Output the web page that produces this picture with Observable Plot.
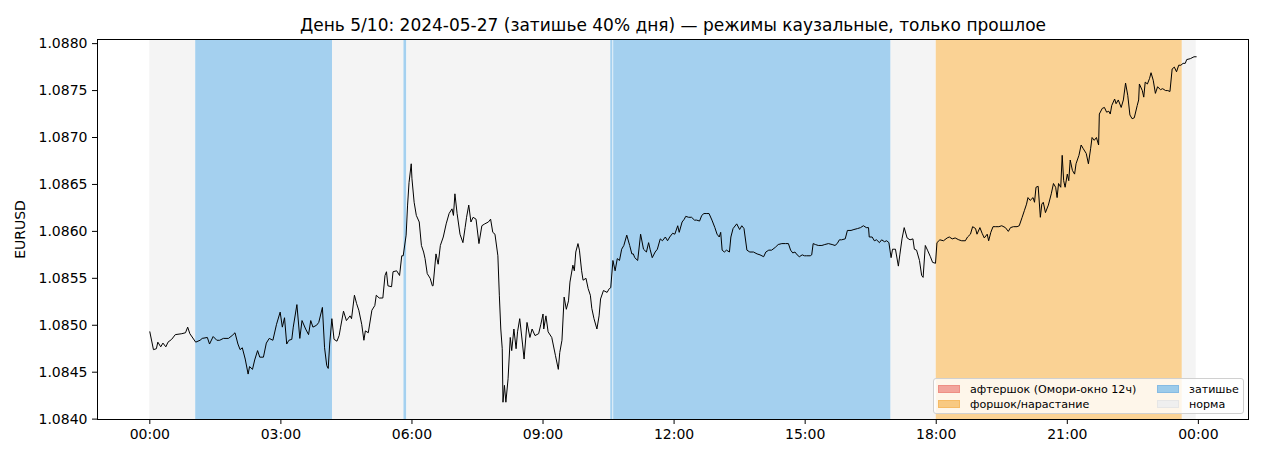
<!DOCTYPE html>
<html>
<head>
<meta charset="utf-8">
<script src="https://cdn.jsdelivr.net/npm/d3@7"></script>
<script src="https://cdn.jsdelivr.net/npm/@observablehq/plot@0.6"></script>
<style>
  html, body { margin: 0; padding: 0; background: #fff; }
  #wrap { position: relative; width: 1265px; height: 460px; font-family: "DejaVu Sans", sans-serif; }
  #legend { position: absolute; left: 933px; top: 378px; width: 311px; height: 36px;
    background: rgba(255,255,255,0.8); border: 1px solid #d0d0d0; border-radius: 3px; box-sizing: border-box;
    font-size: 11.1px; color: #000; }
  .item { position: absolute; height: 13px; line-height: 13px; white-space: nowrap; }
  .sw { position: absolute; left: 0; top: 2px; width: 22px; height: 8px; box-sizing: border-box; }
  .lab { position: absolute; left: 32px; top: 0; }
</style>
</head>
<body>
<div id="wrap"><div id="chart"></div><div id="legend"></div></div>
<script>
const title = "День 5/10: 2024-05-27 (затишье 40% дня) — режимы каузальные, только прошлое";
const yLabel = "EURUSD";

// time of each bar, minutes after 00:00
const minutes = [
  0,5,9,11,15,18,22,25,30,35,
  44,49,52,55,63,69,72,79,82,87,
  92,96,101,108,113,117,121,124,127,131,
  135,137,141,144,148,151,156,160,164,169,
  174,179,182,185,188,191,195,197,202,206,
  209,214,218,221,224,229,232,237,240,243,
  245,247,250,253,257,260,262,266,270,275,
  277,281,284,287,291,294,296,300,305,309,
  311,315,320,323,325,327,332,334,339,343,
  346,348,352,354,356,359,360,363,366,370,
  373,376,378,381,385,388,389,393,396,399,
  403,407,411,415,417,419,422,426,430,433,
  435,438,441,444,448,452,456,460,465,468,
  471,474,478,480,482,484,485,487,489,492,
  495,497,500,503,505,508,512,514,518,522,
  525,529,534,537,540,541,544,547,552,557,
  561,563,566,569,572,575,577,581,583,585,
  588,590,593,595,599,602,605,607,610,614,
  617,619,623,628,631,633,636,639,642,645,
  648,651,655,659,662,664,666,670,674,678,
  682,685,687,690,694,697,701,704,708,711,
  714,718,721,725,727,731,734,736,740,744,
  748,751,755,758,761,765,768,772,776,779,
  782,784,786,789,792,796,798,801,806,810,
  813,816,820,824,829,834,838,843,846,850,
  854,859,863,868,873,877,880,883,886,889,
  892,896,899,902,907,909,911,914,918,923,
  927,932,937,941,944,947,950,955,958,963,
  967,972,976,980,984,987,988,992,995,998,
  1002,1005,1009,1012,1015,1018,1020,1024,1028,1030,
  1033,1036,1040,1044,1048,1050,1053,1057,1060,1062,
  1065,1068,1072,1075,1079,1081,1085,1090,1095,1098,
  1102,1106,1111,1115,1120,1123,1127,1130,1134,1136,
  1140,1143,1146,1150,1152,1155,1158,1161,1166,1170,
  1175,1179,1182,1186,1191,1194,1198,1201,1204,1206,
  1209,1213,1215,1217,1220,1223,1225,1227,1230,1234,
  1238,1241,1244,1246,1248,1251,1253,1255,1257,1260,
  1262,1264,1267,1270,1272,1276,1279,1282,1286,1289,
  1292,1294,1297,1300,1303,1304,1308,1311,1314,1317,
  1319,1321,1325,1327,1330,1334,1337,1340,1343,1346,
  1349,1352,1356,1358,1359,1363,1365,1367,1370,1373,
  1375,1378,1381,1384,1388,1391,1395,1398,1401,1404,
  1407,1410,1413,1416,1419,1422,1424,1429,1434,1437
];

// EURUSD price at each time
const prices = [
  1.08493,1.08474,1.08475,1.08482,1.08477,1.08481,1.08477,1.08482,1.08485,1.08490,
  1.08491,1.08492,1.08498,1.08491,1.08482,1.08484,1.08486,1.08487,1.08480,1.08488,
  1.08484,1.08484,1.08486,1.08486,1.08489,1.08492,1.08480,1.08474,1.08476,1.08464,
  1.08448,1.08456,1.08453,1.08463,1.08473,1.08466,1.08466,1.08481,1.08486,1.08484,
  1.08501,1.08514,1.08498,1.08508,1.08480,1.08484,1.08485,1.08498,1.08522,1.08486,
  1.08505,1.08496,1.08490,1.08505,1.08498,1.08500,1.08503,1.08519,1.08476,1.08457,
  1.08454,1.08480,1.08507,1.08485,1.08483,1.08489,1.08498,1.08515,1.08505,1.08510,
  1.08507,1.08532,1.08523,1.08516,1.08501,1.08484,1.08494,1.08492,1.08516,1.08521,
  1.08532,1.08529,1.08529,1.08553,1.08557,1.08542,1.08541,1.08557,1.08558,1.08553,
  1.08574,1.08574,1.08596,1.08628,1.08652,1.08672,1.08656,1.08631,1.08617,1.08610,
  1.08585,1.08578,1.08571,1.08555,1.08550,1.08542,1.08542,1.08576,1.08565,1.08585,
  1.08594,1.08608,1.08619,1.08624,1.08617,1.08640,1.08619,1.08597,1.08588,1.08604,
  1.08615,1.08628,1.08610,1.08615,1.08613,1.08587,1.08606,1.08608,1.08610,1.08613,
  1.08599,1.08597,1.08574,1.08532,1.08496,1.08475,1.08418,1.08436,1.08418,1.08443,
  1.08487,1.08473,1.08496,1.08475,1.08493,1.08507,1.08479,1.08464,1.08503,1.08487,
  1.08496,1.08489,1.08491,1.08501,1.08512,1.08496,1.08510,1.08493,1.08487,1.08468,
  1.08453,1.08471,1.08484,1.08530,1.08517,1.08526,1.08546,1.08564,1.08558,1.08578,
  1.08587,1.08580,1.08558,1.08548,1.08550,1.08539,1.08532,1.08518,1.08507,1.08496,
  1.08510,1.08528,1.08537,1.08535,1.08539,1.08540,1.08569,1.08558,1.08571,1.08569,
  1.08581,1.08585,1.08596,1.08585,1.08576,1.08576,1.08572,1.08569,1.08597,1.08581,
  1.08578,1.08588,1.08581,1.08572,1.08578,1.08581,1.08592,1.08590,1.08594,1.08590,
  1.08594,1.08598,1.08597,1.08606,1.08599,1.08610,1.08613,1.08616,1.08615,1.08615,
  1.08612,1.08612,1.08611,1.08617,1.08619,1.08619,1.08619,1.08612,1.08604,1.08597,
  1.08594,1.08599,1.08580,1.08578,1.08580,1.08578,1.08594,1.08603,1.08608,1.08602,
  1.08606,1.08603,1.08580,1.08578,1.08578,1.08576,1.08575,1.08573,1.08578,1.08580,
  1.08580,1.08583,1.08586,1.08587,1.08587,1.08587,1.08580,1.08577,1.08578,1.08575,
  1.08573,1.08575,1.08574,1.08574,1.08574,1.08575,1.08587,1.08586,1.08585,1.08585,
  1.08586,1.08587,1.08586,1.08585,1.08587,1.08591,1.08591,1.08592,1.08601,1.08601,
  1.08602,1.08603,1.08604,1.08606,1.08604,1.08604,1.08594,1.08594,1.08590,1.08591,
  1.08588,1.08591,1.08589,1.08590,1.08588,1.08572,1.08581,1.08581,1.08563,1.08575,
  1.08592,1.08604,1.08593,1.08591,1.08592,1.08581,1.08580,1.08569,1.08553,1.08551,
  1.08585,1.08580,1.08573,1.08567,1.08566,1.08588,1.08591,1.08590,1.08593,1.08594,
  1.08592,1.08593,1.08591,1.08590,1.08590,1.08594,1.08597,1.08605,1.08603,1.08597,
  1.08604,1.08598,1.08593,1.08597,1.08590,1.08599,1.08605,1.08605,1.08605,1.08606,
  1.08604,1.08600,1.08604,1.08605,1.08605,1.08606,1.08615,1.08622,1.08629,1.08636,
  1.08633,1.08636,1.08631,1.08647,1.08648,1.08615,1.08629,1.08631,1.08620,1.08628,
  1.08640,1.08651,1.08647,1.08636,1.08651,1.08647,1.08681,1.08654,1.08647,1.08661,
  1.08654,1.08676,1.08665,1.08661,1.08672,1.08681,1.08692,1.08688,1.08683,1.08672,
  1.08688,1.08700,1.08697,1.08700,1.08692,1.08725,1.08731,1.08732,1.08727,1.08728,
  1.08725,1.08734,1.08741,1.08736,1.08740,1.08732,1.08740,1.08758,1.08745,1.08724,
  1.08720,1.08721,1.08734,1.08740,1.08757,1.08750,1.08743,1.08759,1.08757,1.08763,
  1.08769,1.08761,1.08747,1.08754,1.08751,1.08752,1.08750,1.08750,1.08749,1.08773,
  1.08775,1.08770,1.08777,1.08777,1.08779,1.08779,1.08783,1.08784,1.08786,1.08786
];

// causal regime segments (minutes)
const regimeStart = [0, 63, 251, 349, 353, 633, 637, 1018, 1080, 1418];
const regimeEnd   = [63, 251, 349, 353, 633, 636, 1018, 1080, 1418, 1437];
const regimeType  = ["norm","quiet","norm","quiet","norm","quiet","quiet","norm","fore","norm"];

const regimeKeys   = ["after", "fore", "quiet", "norm"];
const regimeLabels = ["афтершок (Омори-окно 12ч)", "форшок/нарастание", "затишье", "норма"];
const regimeFill   = ["#f4aea7", "#fad294", "#a4d0ef", "#f4f4f4"];
const legendFill   = ["#f2a59c", "#f8c982", "#9ccbea", "#efefef"];
const legendEdge   = ["#ee8f85", "#f6bb65", "#86bbe3", "#e6e6e6"];

const xTicks = [0, 180, 360, 540, 720, 900, 1080, 1260, 1440];
const yTicks = [1.0840, 1.0845, 1.0850, 1.0855, 1.0860, 1.0865, 1.0870, 1.0875, 1.0880];

const n = Math.min(minutes.length, prices.length);
const series = d3.range(n).map(i => ({m: minutes[i], p: prices[i]}));
const regimes = regimeStart.map((s, i) => ({s, e: regimeEnd[i], t: regimeType[i]}));
const fillOf = k => regimeFill[regimeKeys.indexOf(k)];

const xMin = d3.min(minutes), xMax = d3.max(minutes);
const yMin = d3.min(prices), yMax = d3.max(prices);
const xPad = (xMax - xMin) * 0.05, yPad = (yMax - yMin) * 0.05;

const fmtTime = m => { const h = Math.floor(m / 60) % 24, mm = m % 60; return String(h).padStart(2,"0") + ":" + String(mm).padStart(2,"0"); };

const chart = Plot.plot({
  width: 1265,
  height: 460,
  marginLeft: 97,
  marginRight: 17,
  marginTop: 39,
  marginBottom: 41,
  style: {fontFamily: "DejaVu Sans, sans-serif", fontSize: "14px", color: "#000", background: "#fff"},
  x: {domain: [xMin - xPad, xMax + xPad]},
  y: {domain: [yMin - yPad, yMax + yPad]},
  marks: [
    Plot.barX(regimes, {x1: "s", x2: "e", fill: d => fillOf(d.t)}),
    Plot.line(series, {x: "m", y: "p", stroke: "#000", strokeWidth: 1}),
    Plot.frame({stroke: "#000", strokeWidth: 1}),
    Plot.axisX({ticks: xTicks, tickFormat: fmtTime, tickSize: 5, tickPadding: 5, fontSize: 14, label: null}),
    Plot.axisY({ticks: yTicks, tickFormat: d3.format(".4f"), tickSize: 5, tickPadding: 5, fontSize: 14,
      label: yLabel, labelAnchor: "center", labelArrow: "none", labelOffset: 82}),
    Plot.text([title], {frameAnchor: "top", dy: -9, fontSize: 17, fill: "#000", lineAnchor: "bottom"})
  ]
});
document.getElementById("chart").appendChild(chart);

// legend (two columns, lower right inside the axes)
const legend = document.getElementById("legend");
const pos = [[4, 4], [4, 19], [223, 4], [223, 19]];
regimeKeys.forEach((k, i) => {
  const it = document.createElement("div");
  it.className = "item";
  it.style.left = pos[i][0] + "px";
  it.style.top = pos[i][1] + "px";
  const sw = document.createElement("div");
  sw.className = "sw";
  sw.style.background = legendFill[i];
  sw.style.border = "1px solid " + legendEdge[i];
  const lb = document.createElement("div");
  lb.className = "lab";
  lb.textContent = regimeLabels[i];
  it.appendChild(sw); it.appendChild(lb);
  legend.appendChild(it);
});
</script>
</body>
</html>
